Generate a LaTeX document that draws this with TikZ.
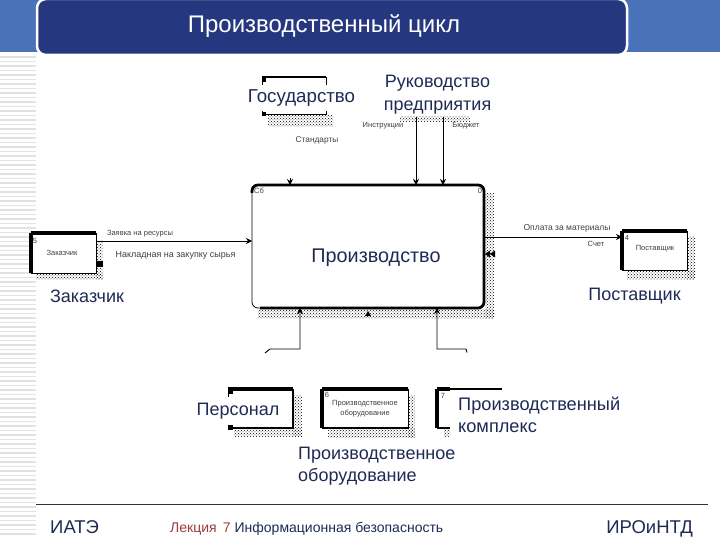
\documentclass[tikz,border=0pt]{standalone}
\usepackage{fontspec}
\setmainfont{Liberation Sans}
\usetikzlibrary{arrows.meta,patterns,calc}
\definecolor{navy}{HTML}{25387F}
\definecolor{bluebar}{HTML}{4A72B8}
\definecolor{inktext}{HTML}{1F2A55}
\definecolor{stripe}{HTML}{E2E2E2}
\definecolor{redtext}{HTML}{A03A3A}
\tikzset{
  boxnode/.style={draw=black,line width=0.8pt,fill=white,anchor=north west,inner sep=0pt,outer sep=0pt},
  heavy/.style={line width=3.5pt,line cap=butt},
  shade/.style={pattern=crosshatch dots,pattern color=black,draw=none},
  big/.style={text=inktext,font=\fontsize{18}{22}\selectfont,inner sep=1pt,fill=white},
  bigleft/.style={big,align=left,anchor=west},
  tiny/.style={text=black!75,font=\fontsize{7.5}{9}\selectfont,inner sep=1pt},
  arr/.style={line width=0.9pt,-{Stealth[length=6pt,width=6pt]}},
}
\begin{document}
\begin{tikzpicture}[x=1pt,y=-1pt]
\useasboundingbox (0,0) rectangle (720,540);
\fill[white] (0,0) rectangle (720,540);
% backdrop
\fill[bluebar] (0,0) rectangle (720,52.5);
\foreach \yy in {57,61.5,...,537}{\draw[stripe,line width=1.4pt] (0,\yy) -- (36,\yy);}
\node[draw=white,line width=2.5pt,fill=navy,rounded corners=9pt,anchor=north west,minimum width=590pt,minimum height=56pt,inner sep=0pt,outer sep=0pt] (bar) at (37,-1) {};
\node[text=white,font=\fontsize{24}{28}\selectfont,inner sep=0pt] (title) at (324,26) {Производственный цикл};
% shadows
\fill[shade] (268,116) rectangle (333,127);
\fill[shade] (400,117) rectangle (470,122);
\fill[shade] (258,309) rectangle (494,318);
\fill[shade] (485,193) rectangle (494,318);
\fill[shade] (96,240) rectangle (103,279);
\fill[shade] (36,273) rectangle (103,279);
\fill[shade] (687,236) rectangle (695,279);
\fill[shade] (627,270) rectangle (695,279);
\fill[shade] (293,395) rectangle (302,436);
\fill[shade] (234,428) rectangle (302,436);
\fill[shade] (408,395) rectangle (415,437);
\fill[shade] (328,428) rectangle (415,437);
\fill[shade] (444,429) rectangle (450,436);
% boxes
\node[boxnode,minimum width=64pt,minimum height=37pt] (gov) at (262,77) {};
\node[boxnode,rounded corners=6pt,minimum width=232pt,minimum height=123pt] (main) at (252,185) {};
\node[boxnode,minimum width=65pt,minimum height=40pt] (cust) at (31,233) {};
\node[boxnode,minimum width=65pt,minimum height=39pt] (supp) at (622,231) {};
\node[boxnode,minimum width=65pt,minimum height=39pt] (staff) at (228,389) {};
\node[boxnode,minimum width=86pt,minimum height=39pt] (equip) at (322,389) {};
\node[boxnode,draw=none,minimum width=65pt,minimum height=39pt] (plant) at (437,389) {};
% heavy edges
\draw[line width=2.5pt] (gov.north west) -- (gov.north east);
\draw[line width=2.8pt,rounded corners=6pt] ($(main.north west)+(0,8)$) -- (main.north west) -- (main.north east) -- (main.south east) -- ($(main.south west)+(8,0)$);
\draw[heavy] (cust.north west) -- (cust.north east);
\draw[heavy] (cust.north west) -- (cust.south west);
\draw[heavy] (supp.north west) -- (supp.north east);
\draw[heavy] (supp.north west) -- (supp.south west);
\draw[heavy] (staff.north west) -- (staff.north east);
\draw[line width=2pt] (staff.north east) -- (staff.south east);
\draw[line width=2pt] (staff.south west) -- (staff.south east);
\draw[heavy] (equip.north west) -- (equip.north east);
\draw[heavy] (equip.north west) -- (equip.south west);
\draw[line width=1.5pt] (equip.south west) -- (equip.south east);
\draw[line width=1.2pt] (plant.north west) -- (plant.north east);
\draw[heavy] (plant.north west) -- +(13,0);
\draw[heavy] (plant.north west) -- (plant.south west);
\draw[line width=1.5pt] (plant.south west) -- +(13,0);
% connector anchors
\coordinate (a1) at (416,117);
\coordinate (a2) at (443,117);
\coordinate (a3) at (290,178);
\coordinate (b1) at (96,241);
\coordinate (b2) at (485,237);
\coordinate (c1) at (300,349);
\coordinate (c2) at (437,349);
\coordinate (c1e) at (265,353);
\coordinate (c2e) at (467,352.5);
\draw[arr] (a1) -- (a1 |- main.north);
\draw[arr] (a2) -- (a2 |- main.north);
\draw[arr] (a3) -- (a3 |- main.north);
\draw[arr] (cust.east |- b1) -- (main.west |- b1);
\draw[arr] (main.east |- b2) -- (supp.west |- b2);
\draw[arr] (c1e) -- +(5,-4) -- (c1) -- (c1 |- main.south);
\draw[arr] (c2e) -- +(-1,-3.5) -- (c2) -- (c2 |- main.south);
\fill[black] (97,261) rectangle (103,267);
\fill[black] (368,311) -- (371,316) -- (365,316) -- cycle;
\fill[black] (485,254) -- (490,250.5) -- (490,257.5) -- cycle;
\fill[black] (490,254) -- (495,250.5) -- (495,257.5) -- cycle;
% big labels
\node[big,minimum height=26pt,font=\fontsize{18.7}{22}\selectfont] (lgov) at (301.5,98.5) {Государство};
\node[big,align=center,font=\fontsize{18}{23}\selectfont] (lruk) at (437.5,95) {Руководство\\предприятия};
\node[big,fill=none,font=\fontsize{19.8}{22}\selectfont] (lmain) at (376,258) {Производство};
\node[big] (lcust) at (87,296) {Заказчик};
\node[big] (lsupp) at (634.5,296) {Поставщик};
\node[big,minimum height=28pt] (lstaff) at (238,411) {Персонал};
\fill[black] (228,390) rectangle (233,394);
\fill[black] (228,425) rectangle (233,430);
\fill[black] (262,77) rectangle (266,82);
\fill[black] (262,112) rectangle (266,116);
\node[bigleft,font=\fontsize{18.2}{22.5}\selectfont] (lplant) at (457,415) {Производственный\\комплекс};
\node[bigleft,font=\fontsize{18}{22.5}\selectfont] (lequip) at (297,466) {Производственное\\оборудование};
% small labels
\node[tiny,font=\fontsize{8.3}{9}\selectfont] (s1) at (317,140) {Стандарты};
\node[tiny] (s2) at (383,126) {Инструкции};
\node[tiny] (s3) at (466,126) {Бюджет};
\node[tiny] (s4) at (140,234) {Заявка на ресурсы};
\node[tiny,font=\fontsize{9}{10}\selectfont] (s5) at (175.5,255) {Накладная на закупку сырья};
\node[tiny,font=\fontsize{8.5}{10}\selectfont] (s6) at (567,228) {Оплата за материалы};
\node[tiny] (s7) at (596,244) {Счет};
\node[tiny] (s8) at (62,253) {Заказчик};
\node[tiny] (s9) at (655,249) {Поставщик};
\node[tiny,align=center,font=\fontsize{7.5}{10}\selectfont] (s10) at (365,409) {Производственное\\оборудование};
\node[tiny] (n1) at (259,191) {Сб};
\node[tiny] (n2) at (480,191) {0};
\node[tiny] (n3) at (35,241) {5};
\node[tiny] (n4) at (627,238) {4};
\node[tiny] (n5) at (327,395) {6};
\node[tiny] (n6) at (443,396) {7};
% footer
\draw[black!80,line width=1pt] (36,504.5) -- (708,504.5);
\node[text=inktext,font=\fontsize{18.5}{20}\selectfont,inner sep=0pt,anchor=base west] (f1) at (50,533) {ИАТЭ};
\node[font=\fontsize{14}{16}\selectfont,inner sep=0pt,anchor=west] (f2) at (170,528.5) {\textcolor{redtext}{Лекция\, 7} \textcolor{inktext}{Информационная безопасность}};
\node[text=inktext,font=\fontsize{18.5}{20}\selectfont,inner sep=0pt,anchor=base east] (f3) at (693,533) {ИРОиНТД};
\end{tikzpicture}
\end{document}
